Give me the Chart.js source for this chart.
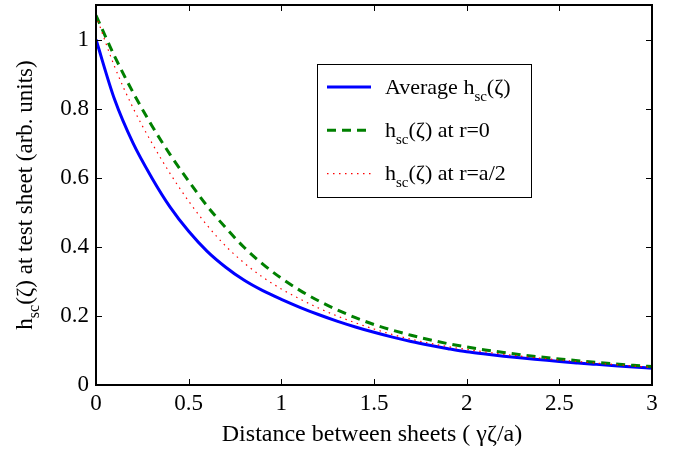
<!DOCTYPE html>
<html><head><meta charset="utf-8">
<script src="https://cdn.jsdelivr.net/npm/chart.js@4/dist/chart.umd.min.js"></script>
<style>html,body{margin:0;padding:0;background:#fff}#wrap{width:686px;height:449px}</style>
</head><body><div id="wrap"><canvas id="c" width="686" height="449"></canvas></div>
<script>
// ---- data ----
const xValues = [0,0.1,0.2,0.3,0.4,0.5,0.6,0.7,0.8,0.9,1.0,1.1,1.2,1.3,1.4,1.5,1.6,1.7,1.8,1.9,2.0,2.1,2.2,2.3,2.4,2.5,2.6,2.7,2.8,2.9,3.0];
const avgValues = [1.0,0.827,0.700,0.601,0.515,0.445,0.387,0.341,0.303,0.273,0.248,0.225,0.204,0.185,0.168,0.1525,0.1385,0.126,0.115,0.105,0.096,0.0895,0.0835,0.078,0.073,0.068,0.0637,0.0597,0.0558,0.052,0.0485];
const r0Values = [1.07,0.952,0.847,0.752,0.667,0.59,0.518,0.455,0.398,0.350,0.309,0.274,0.244,0.218,0.195,0.175,0.1585,0.144,0.131,0.1195,0.110,0.1015,0.094,0.0872,0.0811,0.0755,0.0703,0.0655,0.0611,0.057,0.0532];
const rHalfValues = [1.07,0.922,0.802,0.702,0.612,0.532,0.462,0.402,0.353,0.312,0.278,0.249,0.223,0.200,0.180,0.162,0.146,0.1325,0.121,0.111,0.103,0.0955,0.089,0.083,0.0775,0.0725,0.068,0.0635,0.0592,0.055,0.051];
const xTickValues = [0,0.5,1,1.5,2,2.5,3];
const xTickLabels = ['0','0.5','1','1.5','2','2.5','3'];
const yTickValues = [0,0.2,0.4,0.6,0.8,1];
const yTickLabels = ['0','0.2','0.4','0.6','0.8','1'];
// text parts: [text, isSubscript]
const legendLabels = [
  [['Average h',0],['sc',1],['(\u03B6)',0]],
  [['h',0],['sc',1],['(\u03B6) at r=0',0]],
  [['h',0],['sc',1],['(\u03B6) at r=a/2',0]]
];
const yTitleParts = [['h',0],['sc',1],['(\u03B6) at test sheet (arb. units)',0]];
const xTitleText = 'Distance between sheets ( \u03B3\u03B6/a)';

// ---- styles ----
const FONT = "'Liberation Serif','Times New Roman',serif";
const MAIN_SIZE = 23, SUB_SIZE = 16, SUB_SHIFT = 7;
const LEG_SIZE = 22, LEG_SUB = 15;
const XTITLE_SIZE = 24;
const styles = [
  {color:'#0000ff', width:3, dash:[]},
  {color:'#008000', width:3, dash:[9,6]},
  {color:'#ff0000', width:1.2, dash:[1.5,4.5]}
];

function partsWidth(ctx, parts, main, sub){
  let w = 0;
  parts.forEach(([t,s])=>{ ctx.font = (s?sub:main)+'px '+FONT; w += ctx.measureText(t).width; });
  return w;
}
function drawParts(ctx, parts, x, y, main, sub){
  ctx.textBaseline = 'alphabetic'; ctx.textAlign = 'left';
  parts.forEach(([t,s])=>{
    ctx.font = (s?sub:main)+'px '+FONT;
    ctx.fillText(t, x, y + (s?SUB_SHIFT:0));
    x += ctx.measureText(t).width;
  });
}

const framePlugin = {
  id:'frame',
  afterDraw(chart){
    const {ctx, chartArea:a, scales:{x, y}} = chart;
    ctx.save();
    ctx.strokeStyle = '#000'; ctx.fillStyle = '#000'; ctx.setLineDash([]);
    ctx.lineWidth = 1;
    const L = 6;
    ctx.beginPath();
    xTickValues.forEach(v=>{
      const px = Math.round(x.getPixelForValue(v)) + 0.5;
      ctx.moveTo(px, a.bottom); ctx.lineTo(px, a.bottom - L);
      ctx.moveTo(px, a.top); ctx.lineTo(px, a.top + L);
    });
    yTickValues.forEach(v=>{
      const py = Math.round(y.getPixelForValue(v)) + 0.5;
      ctx.moveTo(a.left, py); ctx.lineTo(a.left + L, py);
      ctx.moveTo(a.right, py); ctx.lineTo(a.right - L, py);
    });
    ctx.stroke();
    ctx.lineWidth = 2;
    ctx.strokeRect(a.left, a.top, a.right - a.left, a.bottom - a.top);

    // legend
    const bx = 317.5, by = 64.5, bw = 214, bh = 133;
    ctx.fillStyle = '#fff';
    ctx.fillRect(bx, by, bw, bh);
    ctx.lineWidth = 1; ctx.strokeStyle = '#000';
    ctx.strokeRect(bx, by, bw, bh);
    legendLabels.forEach((parts, i)=>{
      const ry = 87 + i * 43.3;
      const st = styles[i];
      ctx.save();
      ctx.strokeStyle = st.color; ctx.lineWidth = st.width; ctx.setLineDash(st.dash);
      ctx.beginPath(); ctx.moveTo(327, ry); ctx.lineTo(371, ry); ctx.stroke();
      ctx.restore();
      ctx.fillStyle = '#000';
      drawParts(ctx, parts, 385, ry + 6.5, LEG_SIZE, LEG_SUB);
    });

    // y title (rotated)
    ctx.fillStyle = '#000';
    const yw = partsWidth(ctx, yTitleParts, MAIN_SIZE, SUB_SIZE);
    ctx.save();
    ctx.translate(32, (a.top + a.bottom) / 2);
    ctx.rotate(-Math.PI / 2);
    drawParts(ctx, yTitleParts, -yw / 2, 0, MAIN_SIZE, SUB_SIZE);
    ctx.restore();

    // x title
    ctx.font = XTITLE_SIZE + 'px ' + FONT;
    ctx.textAlign = 'center'; ctx.textBaseline = 'alphabetic';
    ctx.fillText(xTitleText, (a.left + a.right) / 2 - 2, 441);
    ctx.restore();
  }
};

const pts = vals => xValues.map((xv, i) => ({x: xv, y: vals[i]}));
const mk = (vals, i, order) => ({
  data: pts(vals), borderColor: styles[i].color, borderWidth: styles[i].width,
  borderDash: styles[i].dash, pointRadius: 0, fill: false,
  cubicInterpolationMode: 'monotone', order: order
});

new Chart(document.getElementById('c'), {
  type: 'line',
  data: { datasets: [ mk(avgValues, 0, 3), mk(r0Values, 1, 2), mk(rHalfValues, 2, 1) ] },
  options: {
    responsive: false, animation: false, devicePixelRatio: 1,
    layout: { padding: { left: 0, right: 34, top: 5, bottom: 0 } },
    plugins: { legend: { display: false }, tooltip: { enabled: false } },
    scales: {
      x: {
        type: 'linear', min: 0, max: 3,
        grid: { display: false, drawTicks: false }, border: { display: false },
        afterBuildTicks: s => { s.ticks = xTickValues.map(v => ({ value: v })); },
        afterFit: s => { s.height = 64; s.paddingLeft = 0; s.paddingRight = 0; },
        ticks: { font: { family: FONT, size: MAIN_SIZE }, color: '#000', padding: 5,
                 maxRotation: 0, autoSkip: false, callback: (v, i) => xTickLabels[i] }
      },
      y: {
        type: 'linear', min: 0, max: 1.1,
        grid: { display: false, drawTicks: false }, border: { display: false },
        afterBuildTicks: s => { s.ticks = yTickValues.map(v => ({ value: v })); },
        afterFit: s => { s.width = 96; s.paddingTop = 0; s.paddingBottom = 0; },
        ticks: { font: { family: FONT, size: MAIN_SIZE }, color: '#000', padding: 7,
                 autoSkip: false, callback: (v, i) => yTickLabels[i] }
      }
    }
  },
  plugins: [framePlugin]
});
</script>
</body></html>
